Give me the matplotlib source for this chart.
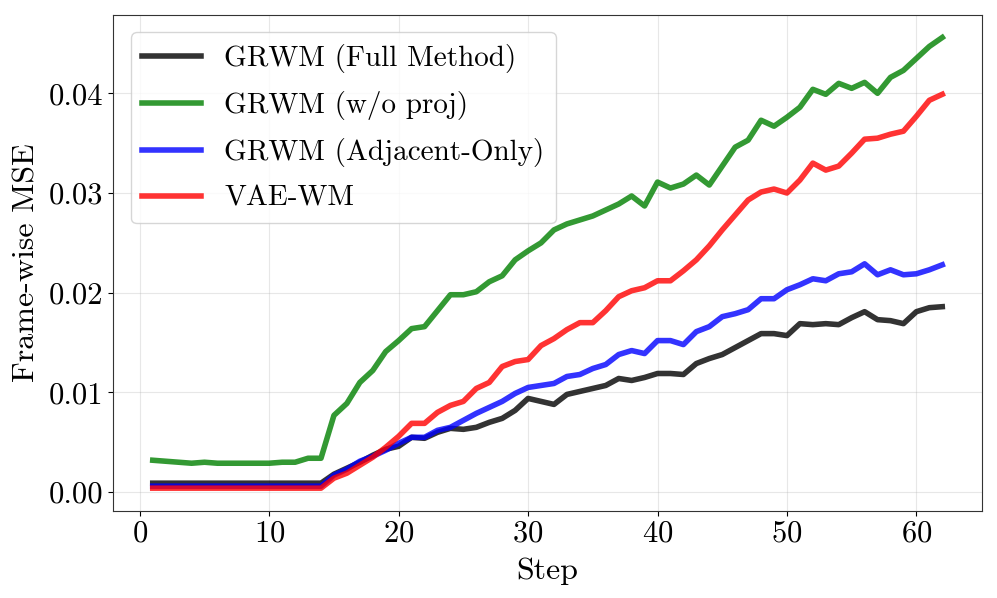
import matplotlib
matplotlib.use("Agg")
import matplotlib.pyplot as plt

plt.rcParams['font.family'] = ['cmr10', 'DejaVu Serif']
plt.rcParams['mathtext.fontset'] = 'cm'
plt.rcParams['axes.formatter.use_mathtext'] = True

steps = list(range(1, 63))

full_method = [0.0009] * 14 + [
    0.0018, 0.0024, 0.0030, 0.0037, 0.0043, 0.0046, 0.0055, 0.0054, 0.0060, 0.0064,
    0.0063, 0.0065, 0.0070, 0.0074, 0.0082, 0.0094, 0.0091, 0.0088, 0.0098, 0.0101,
    0.0104, 0.0107, 0.0114, 0.0112, 0.0115, 0.0119, 0.0119, 0.0118, 0.0129, 0.0134,
    0.0138, 0.0145, 0.0152, 0.0159, 0.0159, 0.0157, 0.0169, 0.0168, 0.0169, 0.0168,
    0.0175, 0.0181, 0.0173, 0.0172, 0.0169, 0.0181, 0.0185, 0.0186]

wo_proj = [0.0032, 0.0031, 0.0030, 0.0029, 0.0030, 0.0029, 0.0029, 0.0029, 0.0029, 0.0029,
           0.0030, 0.0030, 0.0034, 0.0034,
           0.0077, 0.0089, 0.0110, 0.0122, 0.0141, 0.0152, 0.0164, 0.0166, 0.0182, 0.0198,
           0.0198, 0.0201, 0.0211, 0.0217, 0.0233, 0.0242, 0.0250, 0.0263, 0.0269, 0.0273,
           0.0277, 0.0283, 0.0289, 0.0297, 0.0287, 0.0311, 0.0305, 0.0309, 0.0318, 0.0308,
           0.0327, 0.0346, 0.0353, 0.0373, 0.0367, 0.0376, 0.0386, 0.0404, 0.0399, 0.0410,
           0.0405, 0.0411, 0.0400, 0.0416, 0.0423, 0.0435, 0.0447, 0.0456]

adjacent_only = [0.0006] * 14 + [
    0.0017, 0.0023, 0.0031, 0.0036, 0.0042, 0.0049, 0.0055, 0.0055, 0.0062, 0.0065,
    0.0072, 0.0079, 0.0085, 0.0091, 0.0099, 0.0105, 0.0107, 0.0109, 0.0116, 0.0118,
    0.0124, 0.0128, 0.0138, 0.0142, 0.0139, 0.0152, 0.0152, 0.0148, 0.0161, 0.0166,
    0.0176, 0.0179, 0.0183, 0.0194, 0.0194, 0.0203, 0.0208, 0.0214, 0.0212, 0.0219,
    0.0221, 0.0229, 0.0218, 0.0223, 0.0218, 0.0219, 0.0223, 0.0228]

vae_wm = [0.0004] * 14 + [
    0.0014, 0.0019, 0.0027, 0.0035, 0.0045, 0.0056, 0.0069, 0.0069, 0.0080, 0.0087,
    0.0091, 0.0104, 0.0110, 0.0126, 0.0131, 0.0133, 0.0147, 0.0154, 0.0163, 0.0170,
    0.0170, 0.0182, 0.0196, 0.0202, 0.0205, 0.0212, 0.0212, 0.0222, 0.0233, 0.0247,
    0.0263, 0.0278, 0.0293, 0.0301, 0.0304, 0.0300, 0.0313, 0.0330, 0.0323, 0.0327,
    0.0340, 0.0354, 0.0355, 0.0359, 0.0362, 0.0377, 0.0393, 0.0399]

labels = ["GRWM (Full Method)", "GRWM (w/o proj)", "GRWM (Adjacent-Only)", "VAE-WM"]
series = [full_method, wo_proj, adjacent_only, vae_wm]
colors = ["black", "green", "blue", "red"]

fig = plt.figure(figsize=(9.97, 5.98), dpi=100)
ax = fig.add_axes([0.1136, 0.146, 0.8711, 0.829])

for y, lab, c in zip(series, labels, colors):
    ax.plot(steps, y, color=c, alpha=0.8, linewidth=4, label=lab)

ax.grid(True, alpha=0.3)
ax.set_xlabel("Step", fontsize=23, labelpad=7)
ax.set_ylabel("Frame-wise MSE", fontsize=23, labelpad=6)
ax.tick_params(axis='both', labelsize=22)
ax.set_xticks([0, 10, 20, 30, 40, 50, 60])
ax.set_yticks([0.00, 0.01, 0.02, 0.03, 0.04])
ax.set_yticklabels(["0.00", "0.01", "0.02", "0.03", "0.04"])
for s in ax.spines.values():
    s.set_color("#333333")
ax.legend(loc="upper left", fontsize=21, labelspacing=0.62, borderaxespad=0.6)

fig.savefig("out.png", dpi=100)
